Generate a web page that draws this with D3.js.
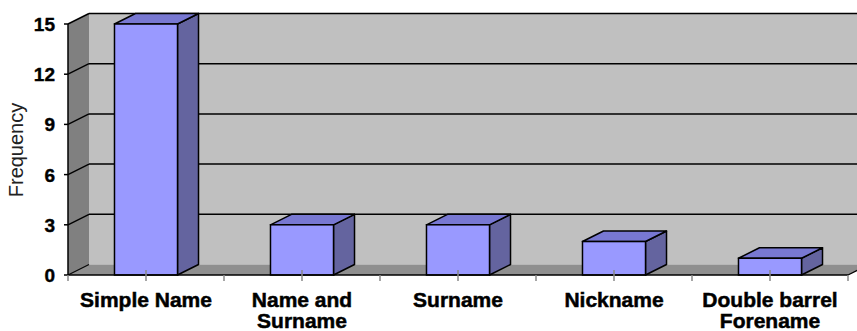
<!DOCTYPE html>
<html>
<head>
<meta charset="utf-8">
<script src="https://cdn.jsdelivr.net/npm/d3@7"></script>
<style>
  body { margin: 0; background: #fff; }
  text { font-family: 'Liberation Sans', Arial, sans-serif; }
</style>
</head>
<body>
<div id="chart"></div>
<script>
const categories = [['Simple Name'], ['Name and', 'Surname'], ['Surname'], ['Nickname'], ['Double barrel', 'Forename']]
const frequency = [15, 3, 3, 2, 1]
const yTicks = [0, 3, 6, 9, 12, 15]

const width = 857
const height = 331
// 3d depth offset
const dx = 21
const dy = -10.5

const svg = d3
  .select('#chart')
  .append('svg')
  .attr('width', width)
  .attr('height', height)

const keys = categories.map(c => c.join(' '))

const xScale = d3
  .scaleBand()
  .domain(keys)
  .range([68, 848])
  .paddingInner(0.596)
  .paddingOuter(0.298)

const yScale = d3.scaleLinear().domain([0, 15]).range([275, 24])

const x0 = xScale.range()[0]
const x1 = xScale.range()[1]
const yb = yScale(0)
const yt = yScale(15)

const pts = p => p.map(d => d.join(',')).join(' ')

// back wall
svg.append('rect')
  .attr('x', x0 + dx).attr('y', yt + dy)
  .attr('width', x1 - x0).attr('height', yb - yt)
  .attr('fill', '#c0c0c0')

// left wall
svg.append('polygon')
  .attr('points', pts([[x0, yt], [x0 + dx, yt + dy], [x0 + dx, yb + dy], [x0, yb]]))
  .attr('fill', '#808080')

// floor
svg.append('polygon')
  .attr('points', pts([[x0, yb], [x0 + dx, yb + dy], [x1 + dx, yb + dy], [x1, yb]]))
  .attr('fill', '#8f8f8f')

// gridlines on back wall and left wall
yTicks.filter(t => t > 0).forEach(t => {
  const y = yScale(t)
  svg.append('line')
    .attr('x1', x0 + dx).attr('x2', x1 + dx)
    .attr('y1', y + dy).attr('y2', y + dy)
    .attr('stroke', '#000').attr('stroke-width', 1.5)
  svg.append('line')
    .attr('x1', x0).attr('x2', x0 + dx)
    .attr('y1', y).attr('y2', y + dy)
    .attr('stroke', '#000').attr('stroke-width', 1.5)
})
// bottom diagonal of left wall + floor edges
svg.append('line')
  .attr('x1', x0).attr('x2', x0 + dx).attr('y1', yb).attr('y2', yb + dy)
  .attr('stroke', '#000').attr('stroke-width', 1.2)
svg.append('line')
  .attr('x1', x1).attr('x2', x1 + dx).attr('y1', yb).attr('y2', yb + dy)
  .attr('stroke', '#000').attr('stroke-width', 1.2)

// y axis
svg.append('line')
  .attr('x1', x0).attr('x2', x0).attr('y1', yt).attr('y2', yb)
  .attr('stroke', '#000').attr('stroke-width', 1.5)

svg.selectAll('.ytick')
  .data(yTicks)
  .enter()
  .append('line')
  .attr('x1', x0 - 4).attr('x2', x0)
  .attr('y1', d => yScale(d)).attr('y2', d => yScale(d))
  .attr('stroke', '#000').attr('stroke-width', 1.5)

svg.selectAll('.ylabel')
  .data(yTicks)
  .enter()
  .append('text')
  .attr('x', 55)
  .attr('y', d => yScale(d) + 7)
  .attr('text-anchor', 'end')
  .attr('font-size', 19)
  .attr('font-weight', 'bold')
  .attr('stroke', '#000').attr('stroke-width', 0.4)
  .text(d => d)

svg.append('text')
  .attr('transform', 'translate(23,150) rotate(-90)')
  .attr('text-anchor', 'middle')
  .attr('font-size', 20)
  .attr('fill', '#222')
  .text('Frequency')

// bars
const bars = svg.selectAll('.bar')
  .data(frequency)
  .enter()
  .append('g')
  .attr('class', 'bar')

bars.each(function(d, i) {
  const g = d3.select(this)
  const bx0 = xScale(keys[i])
  const bx1 = bx0 + xScale.bandwidth()
  const by = yScale(d)
  g.append('polygon')
    .attr('points', pts([[bx1, by], [bx1 + dx, by + dy], [bx1 + dx, yb + dy], [bx1, yb]]))
    .attr('fill', '#64649f').attr('stroke', '#000').attr('stroke-width', 1.5)
    .attr('stroke-linejoin', 'round')
  g.append('polygon')
    .attr('points', pts([[bx0, by], [bx0 + dx, by + dy], [bx1 + dx, by + dy], [bx1, by]]))
    .attr('fill', '#7878d2').attr('stroke', '#000').attr('stroke-width', 1.5)
    .attr('stroke-linejoin', 'round')
  g.append('rect')
    .attr('x', bx0).attr('y', by)
    .attr('width', xScale.bandwidth()).attr('height', yb - by)
    .attr('fill', '#9999ff').attr('stroke', '#000').attr('stroke-width', 1.5)
})

// front floor edge (x axis)
svg.append('line')
  .attr('x1', x0).attr('x2', x1).attr('y1', yb).attr('y2', yb)
  .attr('stroke', '#000').attr('stroke-width', 1.5)

// category ticks at centres and boundaries
const step = xScale.step()
const tickXs = d3.range(0, keys.length * 2 + 1).map(k => x0 + k * step / 2)
svg.selectAll('.xtick')
  .data(tickXs)
  .enter()
  .append('line')
  .attr('x1', d => d).attr('x2', d => d)
  .attr('y1', (d, k) => (k % 2 ? yb - 5 : yb))
  .attr('y2', yb + 6)
  .attr('stroke', '#888').attr('stroke-width', 1.5)

// category labels
categories.forEach((lines, i) => {
  const cx = xScale(keys[i]) + xScale.bandwidth() / 2
  const t = svg.append('text')
    .attr('x', cx)
    .attr('y', 307)
    .attr('text-anchor', 'middle')
    .attr('font-size', 21)
    .attr('font-weight', 'bold')
    .attr('stroke', '#000').attr('stroke-width', 0.5)
  lines.forEach((l, j) => {
    t.append('tspan').attr('x', cx).attr('dy', j ? 21 : 0).text(l)
  })
})
</script>
</body>
</html>
